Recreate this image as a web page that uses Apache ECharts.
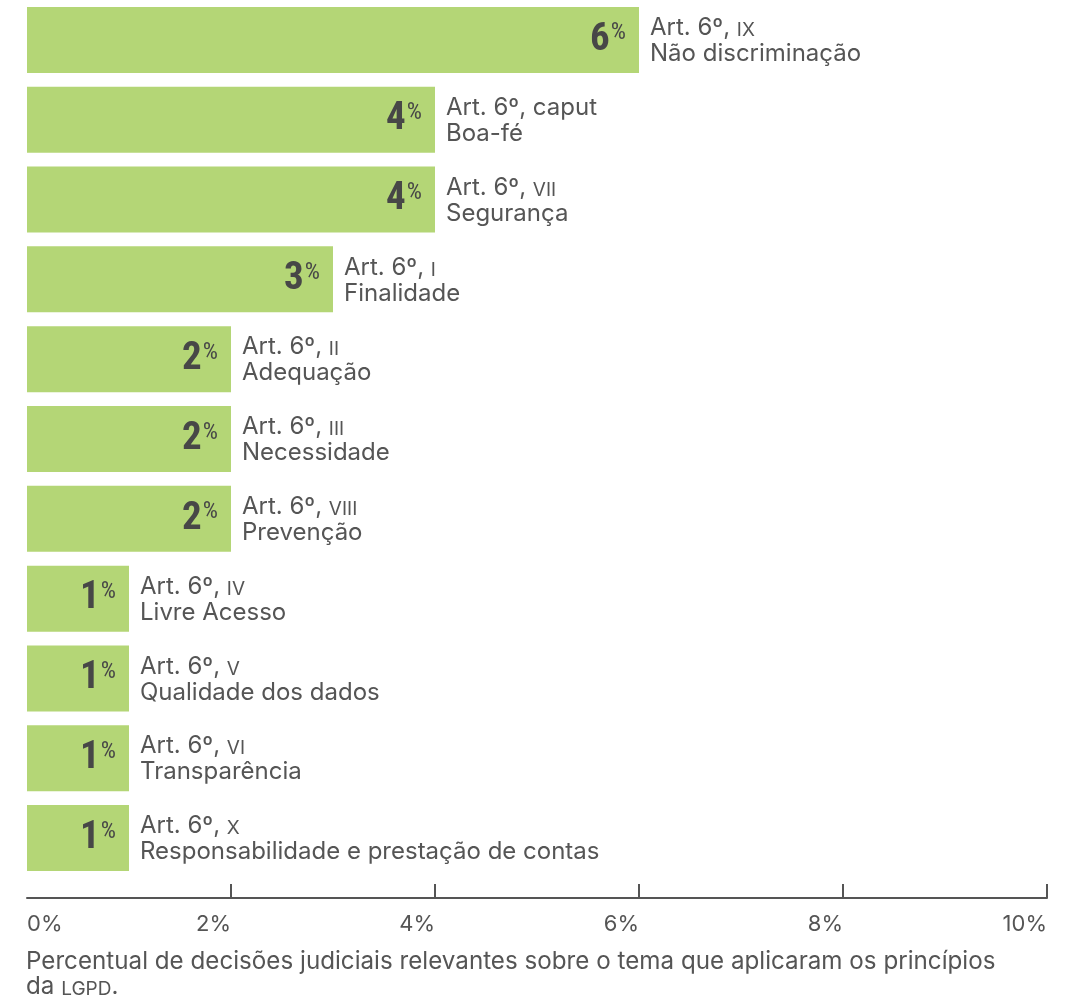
<!DOCTYPE html>
<html>
<head>
<meta charset="utf-8">
<script src="https://cdn.jsdelivr.net/npm/echarts@6/dist/echarts.min.js"></script>
<style>
  html, body { margin: 0; padding: 0; background: #fff; }
  #chart { width: 1075px; height: 1002px; }
</style>
</head>
<body>
<div id="chart"></div>
<script>
// dados
const artRefs = ['IX', 'caput', 'VII', 'I', 'II', 'III', 'VIII', 'IV', 'V', 'VI', 'X'];
const principles = ['Não discriminação', 'Boa-fé', 'Segurança', 'Finalidade', 'Adequação',
  'Necessidade', 'Prevenção', 'Livre Acesso', 'Qualidade dos dados', 'Transparência',
  'Responsabilidade e prestação de contas'];
const shares = [6, 4, 4, 3, 2, 2, 2, 1, 1, 1, 1];
const tickValues = [0, 2, 4, 6, 8, 10];

const textColor = '#555555';
const barColor = '#b4d676';
const sans = 'Inter, "Noto Sans", sans-serif';
const narrow = '"Noto Sans ExtraCondensed", "Noto Sans Condensed", "Roboto Condensed", "Liberation Sans Narrow", "Noto Sans", sans-serif';

const chart = echarts.init(document.getElementById('chart'));

const option = {
  backgroundColor: '#ffffff',
  animation: false,
  title: {
    left: 26,
    top: 949,
    padding: 0,
    text: '{a|Percentual de decisões judiciais relevantes sobre o tema que aplicaram os princípios}\n{a|da }{s|LGPD}{a|.}',
    textStyle: {
      rich: {
        a: { fontFamily: sans, fontWeight: 'normal', fontSize: 24.2, color: textColor, lineHeight: 25, verticalAlign: 'bottom' },
        s: { fontFamily: sans, fontWeight: 'normal', fontSize: 19, color: textColor, lineHeight: 21, verticalAlign: 'bottom' }
      }
    }
  },
  grid: { left: 27, right: 28, top: 0, bottom: 124, containLabel: false },
  xAxis: {
    type: 'value',
    min: 0,
    max: 10,
    interval: 2,
    offset: 20,
    splitLine: { show: false },
    axisLine: { show: true, lineStyle: { color: textColor, width: 2 } },
    axisTick: {
      show: true,
      inside: true,
      length: 14,
      customValues: [2, 4, 6, 8, 10],
      lineStyle: { color: textColor, width: 2 }
    },
    axisLabel: {
      customValues: tickValues,
      formatter: v => v + '%',
      align: 'right',
      alignMinLabel: 'left',
      alignMaxLabel: 'right',
      margin: 15,
      color: textColor,
      fontFamily: sans,
      fontSize: 22
    }
  },
  yAxis: {
    type: 'category',
    inverse: true,
    data: principles,
    show: false
  },
  series: [
    {
      type: 'bar',
      data: shares,
      barWidth: 66,
      silent: true,
      itemStyle: { color: barColor },
      label: {
        show: true,
        position: 'insideRight',
        distance: 13,
        formatter: p => '{n|' + p.value + '}{p|%}',
        rich: {
          n: { fontFamily: narrow, fontWeight: 'bold extra-condensed', fontSize: 39, color: '#474747', lineHeight: 39 },
          p: { fontFamily: narrow, fontWeight: 'normal extra-condensed', fontSize: 24, color: '#474747', lineHeight: 24, verticalAlign: 'top', padding: [1, 0, 0, 1] }
        }
      }
    },
    {
      type: 'bar',
      data: shares,
      barWidth: 66,
      barGap: '-100%',
      silent: true,
      itemStyle: { color: 'rgba(0,0,0,0)' },
      label: {
        show: true,
        position: 'right',
        distance: 11,
        formatter: p => {
          const ref = artRefs[p.dataIndex];
          const first = ref === 'caput'
            ? '{a|Art. 6º, caput}'
            : '{a|Art. 6º, }{r|' + ref + '}';
          return first + '\n{a|' + principles[p.dataIndex] + '}';
        },
        rich: {
          a: { fontFamily: sans, fontSize: 24, color: textColor, lineHeight: 26, verticalAlign: 'bottom' },
          r: { fontFamily: sans, fontSize: 19, color: textColor, lineHeight: 21, verticalAlign: 'bottom' }
        }
      }
    }
  ]
};

chart.setOption(option);
</script>
</body>
</html>
